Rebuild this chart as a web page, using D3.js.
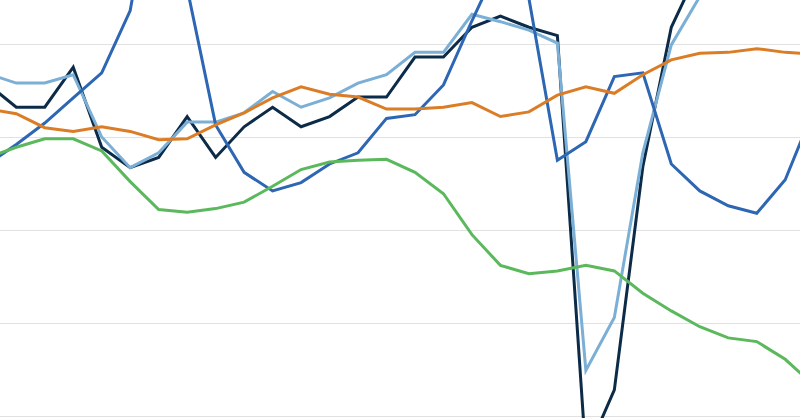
<!DOCTYPE html>
<html>
<head>
<meta charset="utf-8">
<script src="https://cdn.jsdelivr.net/npm/d3@7"></script>
<style>
  html, body { margin: 0; padding: 0; background: #fff; }
  svg { display: block; }
</style>
</head>
<body>
<svg id="chart" width="800" height="418"></svg>
<script>
// Periods (30 points, unlabeled in the reference)
const periods = d3.range(1, 31).map(String);

// Gridline values
const gridValues = [20, 10, 0, -10, -20];

// Series values
const seriesNavy = [15.7, 13.2, 13.2, 17.5, 8.9, 6.7, 7.8, 12.2, 7.8, 11.1,
  13.2, 11.1, 12.2, 14.3, 14.3, 18.6, 18.6, 21.8, 23.0, 21.8,
  20.9, -24.2, -17.2, 6.8, 21.8, 28.3, 33.5, 34.5, 35.0, 35.5];
const seriesLightBlue = [16.8, 15.8, 15.8, 16.7, 10.0, 6.7, 8.3, 11.6, 11.6, 12.6,
  14.9, 13.2, 14.2, 15.8, 16.7, 19.1, 19.1, 23.2, 22.4, 21.5,
  20.1, -15.1, -9.4, 8.3, 19.9, 25.1, 29.0, 31.0, 32.0, 33.0];
const seriesMidBlue = [7.1, 9.2, 11.5, 14.2, 16.9, 23.6, 40.9, 26.0, 11.3, 6.2,
  4.2, 5.1, 7.1, 8.3, 12.0, 12.4, 15.6, 22.5, 29.0, 24.9,
  7.5, 9.5, 16.5, 16.9, 7.1, 4.2, 2.6, 1.8, 5.4, 12.9];
const seriesGreen = [7.8, 8.9, 9.8, 9.8, 8.5, 5.2, 2.2, 1.9, 2.3, 3.0,
  4.7, 6.5, 7.3, 7.5, 7.6, 6.2, 3.9, -0.5, -3.8, -4.7,
  -4.4, -3.8, -4.4, -6.8, -8.7, -10.4, -11.6, -12.0, -13.9, -16.7];
const seriesOrange = [13.0, 12.5, 11.0, 10.6, 11.1, 10.6, 9.7, 9.8, 11.3, 12.6,
  14.2, 15.4, 14.6, 14.3, 13.0, 13.0, 13.2, 13.7, 12.2, 12.7,
  14.5, 15.4, 14.7, 16.7, 18.3, 19.0, 19.1, 19.5, 19.1, 18.9];

const series = [
  { name: "navy", values: seriesNavy, color: "#0c2b48" },
  { name: "lightblue", values: seriesLightBlue, color: "#7bafd6" },
  { name: "midblue", values: seriesMidBlue, color: "#2d66b2" },
  { name: "green", values: seriesGreen, color: "#5cb85c" },
  { name: "orange", values: seriesOrange, color: "#db7d27" }
];

const W = 800, H = 418;
const svg = d3.select("#chart");

const x = d3.scalePoint().domain(periods).range([-12.2, 813.7]).padding(0);
const y = d3.scaleLinear().domain([-20, 20]).range([416, 44]);

// Gridlines via axis
const grid = svg.append("g")
  .attr("class", "grid")
  .call(d3.axisLeft(y).tickValues(gridValues).tickSize(-W * 2).tickFormat(""));
grid.select(".domain").remove();
grid.selectAll(".tick line")
  .attr("x1", 0).attr("x2", W)
  .attr("stroke", "#e1e1e1")
  .attr("stroke-width", 1)
  .attr("shape-rendering", "crispEdges");

const line = d3.line()
  .x((d, i) => x(periods[i]))
  .y(d => y(d));

svg.append("defs").append("clipPath").attr("id", "clip")
  .append("rect").attr("x", 0).attr("y", 0).attr("width", W).attr("height", H);

const g = svg.append("g").attr("clip-path", "url(#clip)");
g.selectAll("path.series")
  .data(series)
  .enter().append("path")
  .attr("class", "series")
  .attr("fill", "none")
  .attr("stroke", d => d.color)
  .attr("stroke-width", 3)
  .attr("stroke-linejoin", "miter")
  .attr("d", d => line(d.values));
</script>
</body>
</html>
